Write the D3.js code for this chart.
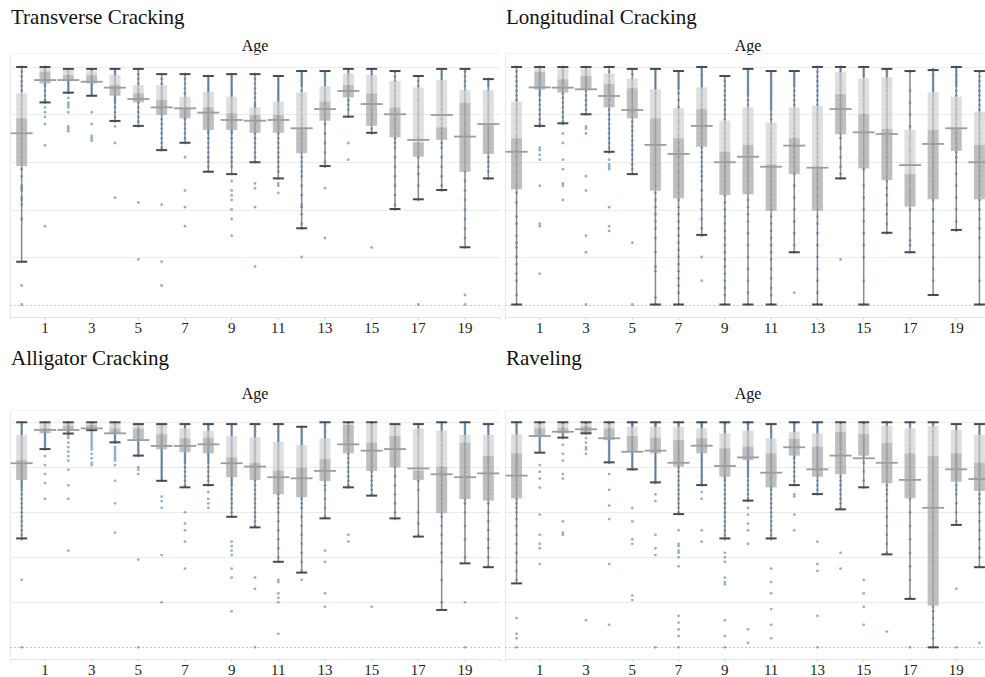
<!DOCTYPE html>
<html>
<head>
<meta charset="utf-8">
<script src="https://cdn.jsdelivr.net/npm/d3@7/dist/d3.min.js"></script>
<style>
  body { margin: 0; background: #fff; }
  svg { display: block; }
</style>
</head>
<body>
<svg id="chart" width="985" height="677"></svg>
<script>
// Pavement distress index (0-100) by pavement age, one box per age
const ages = [0,1,2,3,4,5,6,7,8,9,10,11,12,13,14,15,16,17,18,19,20];
const tickAges = [1,3,5,7,9,11,13,15,17,19];
const gridValues = [0,20,40,60,80,100];

// ---- Transverse Cracking ----
const tcHigh   = [100,100,99.2,99.2,99.2,99.2,97,97,96.2,97,97,96.2,98.3,98.3,99.2,99.2,98.3,96.2,99.2,99.2,94.9];
const tcQ3     = [88.9,99.4,98.7,98.3,96.6,92.4,92.4,87.5,89.6,87.5,83,85.4,89.3,92,97.3,96.6,94.1,91.4,94.5,90.3,90.3];
const tcMedian = [78.4,98,96.6,96.6,92.4,88.9,86.1,82.7,83,80.5,79.8,79.8,74.2,85.4,92.4,88.9,83,68.1,74.6,85,76];
const tcQ1     = [58.3,93.1,94.5,93.1,87.9,85.1,79.8,78.4,73.5,73.5,72.3,72.3,63.7,77.4,87.2,75.2,70.4,62.2,69.3,55.9,63.4];
const tcLow    = [18,85.1,89.2,87.9,77.3,75.2,65,68.1,55.9,54.9,59.9,53.1,32.1,58.3,79.1,72.3,40.2,44.3,48.2,24.1,53.1];
const tcMean   = [72.1,94.5,94.5,93.8,91.3,86.5,83,82.6,80.8,77.7,77.4,77.7,74.2,82.3,89.9,84.4,80.1,69.3,79.8,70.7,76];
const tcPoints = [
  [100,98,96,94,92,90,88,86,84,82,80,78,76,74,72,70,68,66,64,62,60,57,54,50,49,48,45,44,42,36,8,0],
  [100,99,99,98,97,96,95,94,93,92,90,88,86,85,83,81,79,76,67,33],
  [99,98,97,96,95,94,93,92,91,90,89,87,85,84,83,81,75,74,73],
  [99,98,97,96,95,94,93,92,91,90,89,88,81,76,71,70,69],
  [99,98,97,96,95,94,93,92,91,90,88,87,86,85,83,81,79,77,75,68,45],
  [99,97,95,93,92,91,90,89,88,87,86,85,83,81,79,77,75,43,19],
  [97,95,93,91,90,89,88,87,86,85,84,83,82,81,80,78,76,74,72,70,68,66,65,42,18,8],
  [97,95,93,91,89,87,86,85,84,83,82,81,80,79,78,76,74,72,70,68,62,48,41,33],
  [96,95,94,93,92,91,90,89,88,87,86,85,84,83,82,81,80,79,78,77,76,75,74,73,72,70,68,66,64,62,60,58,56],
  [97,96,95,94,93,92,91,90,89,88,87,86,85,84,83,82,81,80,79,78,77,76,75,74,73,72,70,68,66,64,62,60,58,55,52,48,46,44,40,36,29],
  [97,95,93,91,89,87,85,84,83,82,81,80,79,78,77,76,75,74,73,72,70,68,66,64,62,60,51,49,41,16],
  [96,95,94,93,92,91,90,89,88,87,86,85,84,83,82,81,80,79,78,77,76,75,74,73,72,70,68,66,64,62,60,58,56,53,51,50,47],
  [98,97,96,95,94,93,92,90,88,86,84,82,78,76,74,72,70,68,66,64,62,60,58,56,54,50,46,42,38,34,32,41,20],
  [98,97,96,95,94,93,92,91,90,89,88,87,86,85,84,82,80,78,76,72,68,64,60,58,49,28],
  [99,98,97,96,95,94,93,92,91,90,89,88,86,84,82,79,68,61],
  [99,98,97,96,95,94,92,90,88,86,84,82,80,78,76,74,72,24],
  [98,96,94,92,90,88,86,84,82,80,78,76,74,72,70,68,66,62,58,54,50,46,42,40],
  [96,94,92,90,86,80,74,70,68,66,64,62,58,55,50,44,0],
  [99,98,97,96,95,94,93,92,91,90,89,88,86,84,82,80,78,76,74,72,70,68,66,62,58,54,50,48],
  [99,98,96,94,92,90,88,86,84,82,80,76,72,68,64,60,56,52,48,44,40,36,32,28,24,4,0],
  [95,94,93,92,90,88,86,84,82,80,78,76,74,72,70,68,66,64,62,60,58,56,53]
];

// ---- Longitudinal Cracking ----
const lcHigh   = [100,100,100,100,100,99.2,99.2,98.3,100,96.2,99.2,98.3,98.3,100,100,100,99.2,98.3,98.7,100,98.3];
const lcQ3     = [85.4,99.4,99.4,99.4,97.3,95.2,90.6,82.6,91.4,77.4,83,76.6,83,83.7,97.8,95.2,95.7,73.5,89.3,87.5,81.2];
const lcMedian = [70,98,94.8,96.2,92.8,91,78.4,70,82.2,64.3,67.2,59,70,58,88.6,80.1,73.9,54.9,73.5,74.2,67.2];
const lcQ1     = [48.5,90.5,89.2,90.6,83,78.4,47.9,44.7,66.4,46.1,46.4,39.4,54.9,39.5,71.7,57.3,52.4,41.2,44.3,64.7,44.3];
const lcLow    = [0,75.2,76.3,80.1,64.3,54.9,0,0,29.3,0,0,0,22,0,53.1,0,30.2,22,4,31.4,0];
const lcMean   = [64.3,91.4,91.3,90.6,87.8,81.9,67.2,63.4,75.2,59.9,62.2,58,66.9,57.6,82.3,72.5,71.8,58.7,67.6,74.2,59.9];
const lcPoints = [
  [100,98,96,94,92,90,88,86,84,82,80,77,74,71,68,65,62,59,56,53,50,47,43,37,34,29,26,24,20,17,13,10,4,0],
  [100,99,98,97,96,95,94,93,92,91,90,89,88,86,84,82,80,78,76,75,66,65,63,61,50,34,33,13],
  [100,99,98,97,96,95,94,93,92,91,90,89,87,85,83,81,79,77,76,72,68,61,57,51,50,44],
  [100,99,98,97,96,95,94,93,92,91,90,88,86,84,82,80,75,74,72,54,48,29,22,0],
  [100,98,96,94,92,90,88,86,84,82,80,78,76,74,72,70,68,66,64,61,59,58,57,41,33,31],
  [99,97,95,93,91,89,87,85,83,81,79,77,75,73,71,69,67,65,63,61,59,57,55,26,0],
  [99,98,97,96,95,94,93,92,91,89,86,83,80,77,74,71,68,65,62,59,56,53,50,47,44,41,38,35,32,28,22,16,14,3,0],
  [98,97,96,95,94,93,92,91,89,86,83,80,77,74,71,68,65,62,59,56,53,50,47,44,41,38,35,32,29,26,23,20,17,14,11,8,5,0],
  [100,99,98,97,96,95,94,93,92,91,90,88,86,84,82,80,78,76,74,72,70,68,66,64,62,60,58,56,54,52,48,44,40,36,32,29,20,10],
  [96,94,92,90,88,86,84,82,80,78,76,74,72,70,68,66,64,62,60,58,56,54,52,50,48,46,43,40,37,34,31,28,25,22,19,16,13,10,7,4,0],
  [99,98,97,96,95,94,93,92,91,90,89,88,86,84,82,80,78,76,74,72,70,68,66,64,62,60,58,56,54,52,50,47,44,41,38,35,30,25,20,15,10,5,0],
  [98,97,96,95,94,93,92,91,90,89,88,87,86,85,84,83,82,80,78,76,74,72,70,68,66,64,62,60,58,56,54,52,50,48,46,44,42,40,37,34,31,28,25,22,19,15,11,7,4,0],
  [98,97,96,95,94,93,92,90,88,86,84,82,80,78,76,74,72,70,68,66,64,62,60,58,56,55,50,45,40,35,30,25,22,5],
  [100,98,96,94,92,90,88,86,84,82,80,78,76,74,72,70,68,66,64,62,60,58,55,52,49,46,43,40,37,34,30,25,20,15,10,5,0],
  [100,99,98,97,96,95,94,93,92,91,90,88,86,84,82,80,78,76,74,72,70,66,62,58,55,53,19],
  [100,99,98,97,96,94,92,90,88,86,84,80,76,72,68,64,60,57,50,45,40,35,30,25,20,10,0],
  [99,98,97,96,95,94,92,90,88,86,84,82,80,78,76,74,72,70,68,66,64,62,60,58,56,54,52,49,46,42,38,34,30],
  [98,90,85,80,75,70,65,60,56,52,48,44,40,32,27,25,22],
  [99,98,97,96,95,94,93,92,91,90,88,86,84,82,80,78,76,74,72,70,68,66,64,62,60,58,56,54,52,50,48,46,44,40,35,30,25,20,15,10,4],
  [100,99,98,97,96,95,94,93,92,90,88,86,84,82,80,78,76,74,72,70,68,66,64,62,60,55,50,45,40,35,31],
  [98,96,94,92,90,88,86,84,82,80,78,76,74,72,70,68,66,64,62,60,58,56,54,52,50,48,46,44,40,36,32,28,20,10,0]
];

// ---- Alligator Cracking ----
const acHigh   = [100,100,100,100,100,99.2,99.2,99.2,99.2,99.2,99.2,99.2,98,100,100,100,99.2,99.2,100,100,99.2];
const acQ3     = [94.4,99.8,99.5,99.5,99.7,98.8,98.8,97.3,96.3,93.9,93.3,91.4,89.9,92.9,99.2,99.2,98.8,97.3,96.3,94.4,94.4];
const acMedian = [83.2,97.3,98.5,98.8,97.3,97.3,94.7,92.9,93.2,84.4,82,78.5,79.8,83.6,98.8,90.9,93.9,78.5,80.3,90.9,85];
const acQ1     = [74.4,95.1,97,97.5,95.1,92.4,88,86.7,86.2,75.6,74.4,68.1,66.7,73.9,86.2,78.4,80,74.4,59.6,65.9,65.2];
const acLow    = [48.4,88.1,95,96.5,91.1,85.2,74,71.1,72.1,58,53.3,38,33.2,57.3,71.1,67.4,57.3,49.2,16.6,37.3,35.6];
const acMean   = [81.8,96.6,96.6,97.3,95.1,92.1,89.5,89.5,90.2,81.8,80.3,75.6,75.1,78.4,90.2,87.4,88.1,79.5,76.9,75.6,77.3];
const acPoints = [
  [100,99,98,97,96,95,94,93,92,91,90,89,88,87,86,85,84,83,82,81,80,79,78,77,76,75,74,73,72,71,70,68,66,64,62,60,58,56,54,52,50,48,30,0],
  [100,99.5,99,98.5,98,97.5,97,96.5,96,95.5,95,94,93,92,91,90,89,88,85,81,77,73,66],
  [100,99.5,99,98.5,98,97.5,97,96,95,94,93,91,89,87,85,83,79,72,66,43],
  [100,99.5,99,98.5,98,97.5,97,96,95,94,93,92,91,90,89,88,86,84,82,81],
  [100,99.5,99,98.5,98,97,96,95,94,93,92,91,89,88,87,86,85,84,83,81,74,64,51],
  [99,98,97,96,95,94,93,92,91,90,89,88,87,86,85,80,79,77,39,0],
  [99,98,97,96,95,94,93,92,91,90,89,88,87,86,85,84,83,82,81,80,79,78,77,76,75,74,67,65,62,41,20],
  [99,98,97,96,95,94,93,92,91,90,89,88,87,86,85,84,83,82,80,78,76,74,72,60,55,52,47,35],
  [99,98,97,96,95,94,93,92,91,90,89,88,87,86,85,84,83,82,80,78,76,74,72,69,66,64,62],
  [99,98,97,96,95,94,93,92,91,90,89,88,87,86,85,84,83,82,81,80,79,78,77,76,75,74,73,72,70,68,66,64,62,60,58,47,45,43,41,35,31,16],
  [99,98,97,96,95,94,93,92,91,90,89,88,87,86,85,84,83,82,81,80,79,78,77,76,75,74,72,70,68,66,64,62,60,58,56,54,31,26,0],
  [99,98,97,96,95,94,93,92,91,90,89,88,87,86,85,84,83,82,81,80,79,78,77,76,75,74,73,72,71,70,69,68,66,64,62,60,56,52,48,44,40,38,30,29,24,22,20,6],
  [98,97,96,95,94,93,92,91,90,89,88,87,86,85,84,83,82,81,80,79,78,77,76,75,74,73,72,71,70,69,68,67,66,64,62,58,54,50,46,42,38,34,30],
  [100,99,98,97,96,95,94,93,92,91,90,89,88,87,86,85,84,83,82,81,80,79,78,77,76,75,74,72,70,66,62,58,43,38,24,18],
  [100,99,98,97,96,95,94,92,90,88,86,84,82,80,78,76,74,72,71,50,47],
  [100,99,98,97,96,95,94,93,92,91,90,89,88,87,86,85,84,83,82,81,80,79,78,76,74,72,70,68,18],
  [99,98,97,96,95,94,93,92,91,90,89,88,87,86,85,84,83,82,81,80,76,72,68,64,60,57],
  [99,98,97,96,95,94,90,85,80,78,76,74,70,60,55,50],
  [100,99,98,97,96,95,94,93,92,90,88,86,84,82,80,78,76,74,72,70,68,66,64,62,60,58,54,50,46,42,38,30,20],
  [100,99,98,97,96,95,94,93,92,91,90,88,86,84,82,80,78,76,74,72,70,68,66,64,60,54,48,40,20,0],
  [99,98,97,96,95,94,93,92,91,90,89,88,87,86,85,84,83,82,80,78,76,74,72,70,68,66,64,60,56,52,48,44,40,36]
];

// ---- Raveling ----
const rvHigh   = [100,100,100,100,100,100,100,100,100,100,100,99.2,100,100,100,100,100,100,100,99.2,99.2];
const rvQ3     = [94.7,99.2,99.4,99.4,99.2,98,98,98,97.3,95.1,96.3,92.9,95.8,95.1,99.2,99.2,98.5,97.3,98.4,96.6,94.4];
const rvMedian = [86.2,97.3,97.6,98.2,97.3,93.9,93.2,92.1,92.9,88.4,89.2,86.2,92.6,89.2,95.8,94.8,90.9,86.2,85,86.2,82];
const rvQ1     = [66.2,93.6,95.1,95.1,92.1,86.9,86.2,80.3,86.2,75.8,83.2,71.1,85.2,75.8,76.9,85.2,72.9,66.2,18.5,73.6,69.5];
const rvLow    = [28.4,86.5,93.2,95.1,82.2,79.1,73.3,59.2,72.1,48.4,65.2,48.4,72.1,68.1,61.3,71.1,41.3,21.5,0,54.4,35.6];
const rvMean   = [76.3,93.9,95.8,96.9,92.9,86.9,87.4,82,89.6,80.6,84.4,77.6,88.9,79.1,85.2,84,82,74.4,62,79.1,74.8];
const rvPoints = [
  [100,99,98,97,96,95,94,93,92,91,90,89,88,87,86,85,84,83,82,81,80,79,78,77,76,75,74,72,70,68,66,64,62,60,57,54,50,46,42,38,34,30,13,6,4,0],
  [100,99.5,99,98.5,98,97.5,97,96.5,96,95.5,95,94,93,92,91,90,89,88,87,81,78,75,71,59,50,46,44,37],
  [100,99.5,99,98.5,98,97.5,97,96.5,96,95.5,95,94,93,90,86,83,77,75,56,51,50],
  [100,99.5,99,98.5,98,97.5,97,96.5,96,95.5,95,93,91,89,88,86,12],
  [100,99.5,99,98.5,98,97.5,97,96,95,94,93,92,91,90,89,88,87,86,85,84,83,82,77,70,63,57,37,10],
  [100,99.5,99,98.5,98,97,96,95,94,93,92,91,90,89,88,87,86,85,84,83,82,81,80,79,62,56,48,46,23,21],
  [100,99.5,99,98.5,98,97,96,95,94,93,92,91,90,89,88,87,86,85,84,83,82,81,80,79,78,77,76,75,74,73,68,65,50,44,41,0],
  [100,99.5,99,98,97,96,95,94,93,92,91,90,89,88,87,86,85,84,83,82,81,80,78,76,74,72,70,68,66,64,62,60,52,46,45,43,42,40,36,14,11,8,5,0],
  [100,99.5,99,98.5,98,97,96,95,94,93,92,91,90,89,88,87,86,85,84,83,82,81,80,79,78,77,76,75,74,73,72,69,66,52,47],
  [100,99.5,99,98,97,96,95,94,93,92,91,90,89,88,87,86,85,84,83,82,81,80,79,78,77,76,75,74,72,70,68,66,64,62,60,58,56,54,52,50,48,42,40,38,31,29,28,12,5,0],
  [100,99.5,99,98,97,96,95,94,93,92,91,90,89,88,87,86,85,84,83,82,81,80,79,78,77,76,74,72,70,68,66,65,62,59,55,52,46,8,2],
  [99,98,97,96,95,94,93,92,91,90,89,88,87,86,85,84,83,82,81,80,79,78,77,76,75,74,73,72,71,70,68,66,64,62,60,58,56,54,52,50,48,35,29,24,17,10,4],
  [100,99.5,99,98,97,96,95,94,93,92,91,90,89,88,87,86,85,84,82,80,78,76,74,72,68,67,59,52],
  [100,99,98,97,96,95,94,93,92,91,90,89,88,87,86,85,84,83,82,81,80,79,78,77,76,74,72,70,68,47,37,34,14,0],
  [100,99,98,97,96,95,94,93,92,91,90,88,86,84,82,80,78,76,74,72,70,68,66,64,62,42,35],
  [100,99.5,99,98.5,98,97,96,95,94,93,92,91,90,89,88,87,86,85,82,78,74,71,30,24,18,10],
  [100,99,98,97,96,95,94,93,92,90,88,86,84,82,80,78,76,74,72,70,68,65,62,58,54,50,46,42,7],
  [100,99,98,96,94,92,90,88,86,84,82,80,78,76,74,72,70,68,66,60,54,48,42,36,30,22,0],
  [100,99,98,96,94,92,90,88,86,82,78,74,70,66,62,58,54,50,46,42,38,34,30,26,22,18,16,13,10,7,4,0],
  [99,98,97,96,95,94,93,92,91,90,89,88,87,86,85,84,83,82,81,80,79,78,77,76,75,74,72,70,68,64,60,56,26,0],
  [99,98,97,96,95,94,93,92,91,90,89,88,87,86,85,84,83,82,81,80,79,78,77,76,75,74,72,70,68,66,64,60,56,52,48,44,40,36,2]
];

const panelData = [
  { title: "Transverse Cracking",  low: tcLow, q1: tcQ1, median: tcMedian, q3: tcQ3, high: tcHigh, mean: tcMean, points: tcPoints },
  { title: "Longitudinal Cracking", low: lcLow, q1: lcQ1, median: lcMedian, q3: lcQ3, high: lcHigh, mean: lcMean, points: lcPoints },
  { title: "Alligator Cracking",   low: acLow, q1: acQ1, median: acMedian, q3: acQ3, high: acHigh, mean: acMean, points: acPoints },
  { title: "Raveling",             low: rvLow, q1: rvQ1, median: rvMedian, q3: rvQ3, high: rvHigh, mean: rvMean, points: rvPoints }
];

// 2x2 grid geometry
const frames = [
  { x0: 10,  x1: 500, titleY: 24,  headY: 51,  top: 53,  yFull: 67,    yZero: 304.5, axisY: 317 },
  { x0: 505, x1: 991, titleY: 24,  headY: 51,  top: 53,  yFull: 67,    yZero: 304.5, axisY: 317 },
  { x0: 10,  x1: 500, titleY: 365, headY: 399, top: 410, yFull: 422.3, yZero: 647.3, axisY: 659 },
  { x0: 505, x1: 991, titleY: 365, headY: 399, top: 410, yFull: 422.3, yZero: 647.3, axisY: 659 }
];

const svg = d3.select("#chart");
const serif = "'Liberation Serif', 'Times New Roman', serif";

panelData.forEach((p, i) => {
  const f = frames[i];
  const g = svg.append("g");
  const x = d3.scaleBand().domain(ages).range([f.x0, f.x1]);
  const y = d3.scaleLinear().domain([0, 100]).range([f.yZero, f.yFull]);
  const cx = a => x(a) + x.bandwidth() / 2;
  const boxW = 11, capW = 11, meanW = 22;

  // titles
  g.append("text").attr("x", f.x0 + 1).attr("y", f.titleY)
    .attr("font-family", serif).attr("font-size", 21).attr("fill", "#111")
    .text(p.title);
  g.append("text").attr("x", (f.x0 + f.x1) / 2).attr("y", f.headY)
    .attr("text-anchor", "middle")
    .attr("font-family", serif).attr("font-size", 16).attr("fill", "#111")
    .text("Age");

  // frame edges
  g.append("line").attr("x1", f.x0 + 0.5).attr("x2", f.x0 + 0.5)
    .attr("y1", f.top).attr("y2", f.axisY).attr("stroke", "#e8e8e8");
  g.append("line").attr("x1", f.x0).attr("x2", f.x1)
    .attr("y1", f.top + 0.5).attr("y2", f.top + 0.5).attr("stroke", "#f4f4f4");

  // horizontal gridlines
  g.selectAll(".grid").data(gridValues).join("line")
    .attr("x1", f.x0).attr("x2", f.x1)
    .attr("y1", d => Math.round(y(d)) + 0.5).attr("y2", d => Math.round(y(d)) + 0.5)
    .attr("stroke", d => d === 0 ? "#c8c8c8" : "#ececec")
    .attr("stroke-dasharray", d => d === 0 ? "2,2" : null);

  // bottom axis with odd-age labels
  const axis = d3.axisBottom(x).tickValues(tickAges).tickSize(3).tickPadding(2.5);
  const ax = g.append("g").attr("transform", `translate(0,${f.axisY})`).call(axis);
  ax.select(".domain").attr("stroke", "#e2e2e2");
  ax.selectAll(".tick line").attr("stroke", "#d8d8d8");
  ax.selectAll(".tick text").attr("font-family", serif).attr("font-size", 15).attr("fill", "#222");

  const boxes = ages.map(a => ({
    a, low: p.low[a], q1: p.q1[a], med: p.median[a], q3: p.q3[a], high: p.high[a], mean: p.mean[a], pts: p.points[a]
  }));

  // whisker stems
  g.selectAll(".stem").data(boxes).join("line")
    .attr("x1", d => cx(d.a)).attr("x2", d => cx(d.a))
    .attr("y1", d => y(d.low)).attr("y2", d => y(d.high))
    .attr("stroke", "#8a8a8a").attr("stroke-width", 1.5);

  // individual observations
  const dots = boxes.flatMap(d => d.pts.map(v => ({ a: d.a, v })));
  g.selectAll(".dot").data(dots).join("circle")
    .attr("cx", d => cx(d.a)).attr("cy", d => y(d.v)).attr("r", 1.4)
    .attr("fill", "#4e79a7").attr("fill-opacity", 0.6);

  // upper box (median to Q3) and lower box (Q1 to median)
  g.selectAll(".upper").data(boxes).join("rect")
    .attr("x", d => cx(d.a) - boxW / 2).attr("width", boxW)
    .attr("y", d => y(d.q3)).attr("height", d => Math.max(0, y(d.med) - y(d.q3)))
    .attr("fill", "#d2d2d2").attr("fill-opacity", 0.72);
  g.selectAll(".lower").data(boxes).join("rect")
    .attr("x", d => cx(d.a) - boxW / 2).attr("width", boxW)
    .attr("y", d => y(d.med)).attr("height", d => Math.max(0, y(d.q1) - y(d.med)))
    .attr("fill", "#aaaaaa").attr("fill-opacity", 0.75);

  // whisker caps
  ["low", "high"].forEach(k => {
    g.selectAll(".cap-" + k).data(boxes).join("line")
      .attr("x1", d => cx(d.a) - capW / 2).attr("x2", d => cx(d.a) + capW / 2)
      .attr("y1", d => y(d[k])).attr("y2", d => y(d[k]))
      .attr("stroke", "#4a4a4a").attr("stroke-width", 2);
  });

  // average reference line
  g.selectAll(".mean").data(boxes).join("line")
    .attr("x1", d => cx(d.a) - meanW / 2).attr("x2", d => cx(d.a) + meanW / 2)
    .attr("y1", d => y(d.mean)).attr("y2", d => y(d.mean))
    .attr("stroke", "#9c9c9c").attr("stroke-width", 1.8);
});
</script>
</body>
</html>
